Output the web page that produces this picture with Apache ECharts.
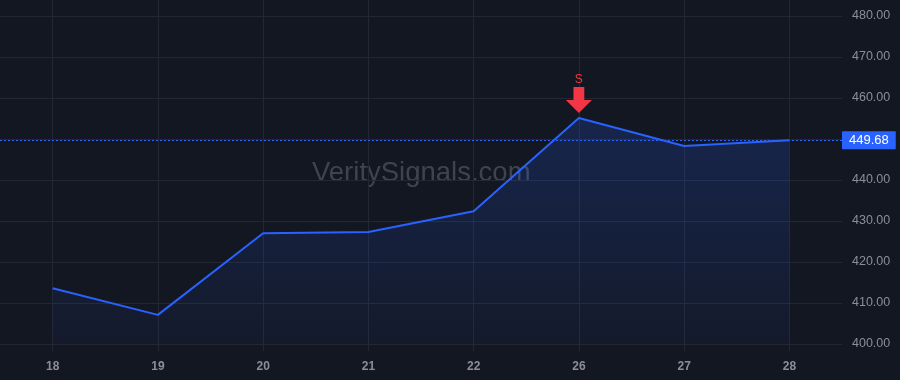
<!DOCTYPE html>
<html>
<head>
<meta charset="utf-8">
<script src="https://cdn.jsdelivr.net/npm/echarts@6/dist/echarts.min.js"></script>
<style>
  html, body { margin: 0; padding: 0; background: #131722; }
  #chart { width: 900px; height: 380px; }
</style>
</head>
<body>
<div id="chart"></div>
<script>
  // 資料
  const days = ['18', '19', '20', '21', '22', '26', '27', '28'];
  const closes = [413.6, 407.1, 427.0, 427.3, 432.4, 455.1, 448.3, 449.68];
  const lastPrice = 449.68;
  const signalDay = '26';
  const signalPrice = 455.1;
  const signalText = 'S';
  const yMin = 400, yMax = 483.9, yStep = 10;

  const GRID = '#232734';
  const LABEL = '#8b8e98';
  const BLUE = '#2962ff';
  const RED = '#f23645';
  const FONT = '"Liberation Sans", Arial, sans-serif';

  const chart = echarts.init(document.getElementById('chart'));

  chart.setOption({
    backgroundColor: '#131722',
    animation: false,
    textStyle: { fontFamily: FONT },
    grid: { left: 0, right: 58, top: 0, bottom: 36 },
    graphic: [{
      type: 'text',
      left: 312, top: 159,
      silent: true,
      style: { text: 'VeritySignals.com', fontSize: 27.5, fontFamily: FONT, fill: 'rgba(130,135,150,0.4)' }
    }],
    xAxis: {
      type: 'category',
      data: days,
      boundaryGap: true,
      axisLine: { show: false },
      axisTick: { show: true, alignWithLabel: true, length: 7, lineStyle: { color: GRID } },
      axisLabel: { color: LABEL, fontSize: 12, fontWeight: 'bold', margin: 17 },
      splitLine: { show: true, alignWithLabel: true, lineStyle: { color: GRID } }
    },
    yAxis: {
      type: 'value',
      position: 'right',
      min: yMin, max: yMax, interval: yStep,
      axisLine: { show: false },
      axisTick: { show: false },
      axisLabel: {
        color: LABEL, fontSize: 12.5, margin: 10, showMaxLabel: false,
        formatter: function (v) { return v.toFixed(2); }
      },
      splitLine: { showMaxLine: false, lineStyle: { color: GRID } }
    },
    series: [{
      type: 'line',
      data: closes,
      symbol: 'none',
      lineStyle: { color: BLUE, width: 2 },
      areaStyle: {
        color: new echarts.graphic.LinearGradient(0, 0, 0, 1, [
          { offset: 0, color: 'rgba(41,98,255,0.28)' },
          { offset: 1, color: 'rgba(41,98,255,0.06)' }
        ])
      },
      markPoint: {
        silent: true,
        data: [{
          coord: [signalDay, signalPrice],
          symbol: 'path://M7,0 L17,0 L17,12 L24,12 L12,24 L0,12 L7,12 Z',
          symbolSize: [26, 26],
          symbolOffset: [0, -18],
          itemStyle: { color: RED },
          label: {
            show: true, formatter: signalText, position: 'top', distance: 1,
            color: RED, fontSize: 12
          }
        }]
      },
      markLine: {
        silent: true,
        symbol: 'none',
        lineStyle: { color: BLUE, type: [2, 2], width: 1 },
        label: {
          show: true, position: 'end', distance: 0,
          formatter: function () { return lastPrice.toFixed(2); },
          color: '#ffffff', backgroundColor: BLUE,
          fontSize: 13, padding: [3, 7, 2, 7], borderRadius: 1
        },
        data: [{ yAxis: lastPrice }]
      }
    }]
  });
</script>
</body>
</html>
